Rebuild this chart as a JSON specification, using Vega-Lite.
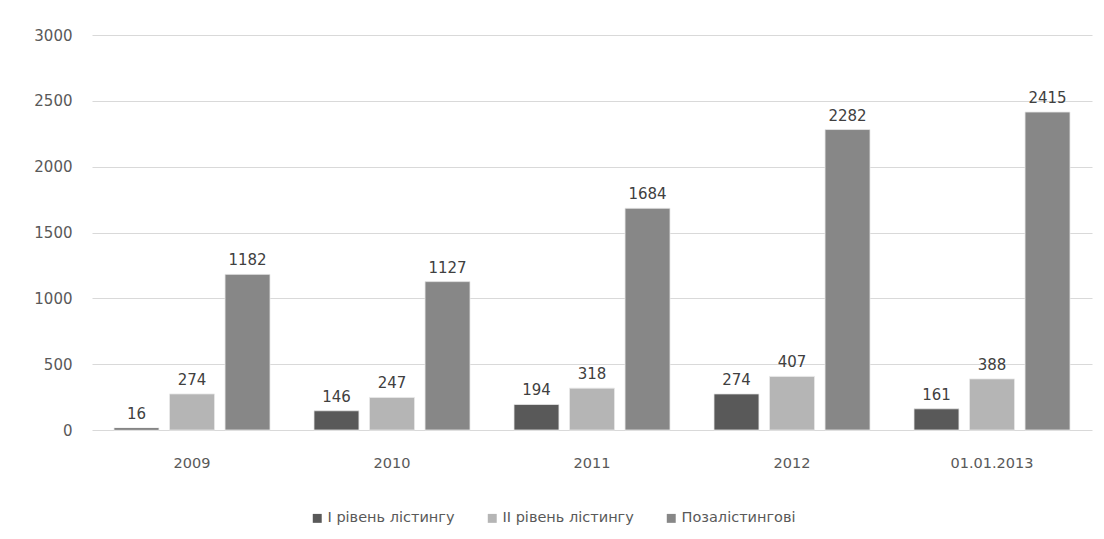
{
  "$schema": "https://vega.github.io/schema/vega-lite/v6.json",
  "width": 1000,
  "height": 395,
  "autosize": "none",
  "padding": {"left": 92, "top": 35, "right": 12, "bottom": 109},
  "background": "#ffffff",
  "config": {
    "view": {"stroke": null},
    "font": "DejaVu Sans",
    "axis": {"labelFont": "DejaVu Sans", "labelColor": "#595959"}
  },
  "data": {
    "values": [
      {"period": "2009", "series": "І рівень лістингу", "value": 16},
      {"period": "2009", "series": "ІІ рівень лістингу", "value": 274},
      {"period": "2009", "series": "Позалістингові", "value": 1182},
      {"period": "2010", "series": "І рівень лістингу", "value": 146},
      {"period": "2010", "series": "ІІ рівень лістингу", "value": 247},
      {"period": "2010", "series": "Позалістингові", "value": 1127},
      {"period": "2011", "series": "І рівень лістингу", "value": 194},
      {"period": "2011", "series": "ІІ рівень лістингу", "value": 318},
      {"period": "2011", "series": "Позалістингові", "value": 1684},
      {"period": "2012", "series": "І рівень лістингу", "value": 274},
      {"period": "2012", "series": "ІІ рівень лістингу", "value": 407},
      {"period": "2012", "series": "Позалістингові", "value": 2282},
      {"period": "01.01.2013", "series": "І рівень лістингу", "value": 161},
      {"period": "01.01.2013", "series": "ІІ рівень лістингу", "value": 388},
      {"period": "01.01.2013", "series": "Позалістингові", "value": 2415}
    ]
  },
  "encoding": {
    "x": {
      "field": "period", "type": "nominal", "sort": null,
      "scale": {"paddingInner": 0.22, "paddingOuter": 0.11},
      "axis": {"title": null, "labelAngle": 0, "domain": false, "ticks": false, "labelPadding": 26, "grid": false, "labelFontSize": 14.5}
    },
    "xOffset": {
      "field": "series", "type": "nominal", "sort": null,
      "scale": {"paddingInner": 0.19, "paddingOuter": 0}
    },
    "y": {
      "field": "value", "type": "quantitative",
      "scale": {"domain": [0, 3000], "nice": false},
      "axis": {"title": null, "values": [0, 500, 1000, 1500, 2000, 2500, 3000], "format": "d", "domain": false, "ticks": false, "labelPadding": 20, "gridColor": "#d9d9d9", "gridWidth": 1, "labelFontSize": 15}
    }
  },
  "layer": [
    {
      "mark": {"type": "bar", "stroke": "#e8e8e8", "strokeWidth": 0.8},
      "encoding": {
        "color": {
          "field": "series", "type": "nominal", "sort": null,
          "scale": {"domain": ["І рівень лістингу", "ІІ рівень лістингу", "Позалістингові"], "range": ["#595959", "#b5b5b5", "#878787"]},
          "legend": {
            "title": null, "orient": "none", "direction": "horizontal",
            "legendX": 218, "legendY": 476,
            "symbolType": "square", "symbolSize": 80, "symbolStrokeWidth": 0,
            "labelFontSize": 14.5, "labelColor": "#595959", "labelFont": "DejaVu Sans",
            "columnPadding": 30, "labelOffset": 3
          }
        }
      }
    },
    {
      "mark": {"type": "text", "dy": -14, "fontSize": 15, "color": "#404040", "font": "DejaVu Sans"},
      "encoding": {"text": {"field": "value", "type": "quantitative"}}
    }
  ]
}
